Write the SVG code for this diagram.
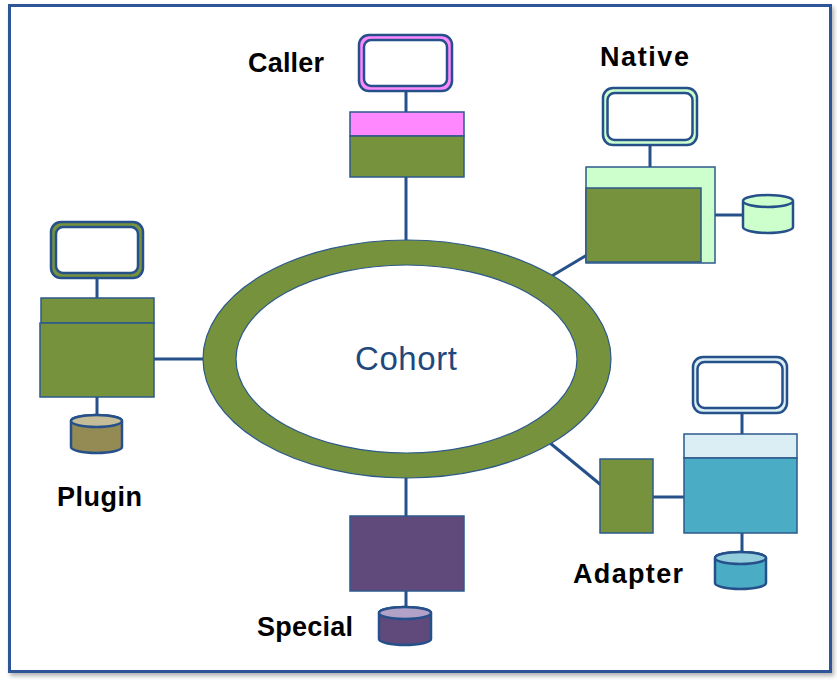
<svg xmlns="http://www.w3.org/2000/svg" width="837" height="683" viewBox="0 0 837 683">
<defs>
<filter id="sh" x="-5%" y="-5%" width="110%" height="110%"><feDropShadow dx="2" dy="3" stdDeviation="2" flood-color="#000" flood-opacity="0.3"/></filter>
<style>
.ln{stroke:#26508A;stroke-width:3;fill:none}
.bx{stroke:#2D5A8C;stroke-width:1.5}
.mo{stroke:#26508A;stroke-width:2.5}
.in{fill:#fff;stroke:#26508A;stroke-width:2.5}
.cy{stroke:#26508A;stroke-width:2.5}
.lbl{font-family:"Liberation Sans",Arial,sans-serif;font-weight:bold;font-size:27px;fill:#000}
.g{fill:#76923C}
</style>
</defs>
<rect x="9.5" y="5.5" width="821" height="666" fill="#fff" stroke="#2F5597" stroke-width="3" filter="url(#sh)"/>
<g id="connectors">
<line class="ln" x1="406" y1="91" x2="406" y2="112"/>
<line class="ln" x1="406" y1="177" x2="406" y2="241"/>
<line class="ln" x1="650" y1="145" x2="650" y2="168"/>
<line class="ln" x1="550" y1="277" x2="587" y2="255"/>
<line class="ln" x1="715" y1="215" x2="743" y2="215"/>
<line class="ln" x1="97" y1="278" x2="97" y2="298"/>
<line class="ln" x1="154" y1="359" x2="204" y2="359"/>
<line class="ln" x1="97" y1="397" x2="97" y2="416"/>
<line class="ln" x1="742" y1="413" x2="742" y2="435"/>
<line class="ln" x1="550" y1="443" x2="601" y2="485"/>
<line class="ln" x1="653" y1="497" x2="684" y2="497"/>
<line class="ln" x1="742" y1="533" x2="742" y2="553"/>
<line class="ln" x1="406" y1="477" x2="406" y2="516"/>
<line class="ln" x1="406" y1="591" x2="406" y2="608"/>
</g>
<g id="cohort">
<path d="M203,359 a204,119 0 1,0 408,0 a204,119 0 1,0 -408,0 Z M236,359 a170.5,94 0 1,0 341,0 a170.5,94 0 1,0 -341,0 Z" fill="#76923C" fill-rule="evenodd" stroke="#2D5A8C" stroke-width="1.2"/>
<text x="406" y="370" text-anchor="middle" font-family="Liberation Sans,Arial,sans-serif" font-size="33" fill="#1F497D" textLength="102">Cohort</text>
</g>
<g id="caller">
<rect class="mo" x="359" y="35" width="93" height="56" rx="10" fill="#FF88FF"/>
<rect class="in" x="364" y="40" width="83" height="46" rx="7"/>
<rect class="bx" x="350" y="112" width="114" height="24" fill="#FF88FF"/>
<rect class="bx g" x="350" y="136" width="114" height="41"/>
<text class="lbl" x="248" y="72" textLength="76">Caller</text>
</g>
<g id="native">
<rect class="mo" x="603" y="88" width="94" height="57" rx="10" fill="#CCFFCC"/>
<rect class="in" x="607.5" y="93" width="85" height="47" rx="7"/>
<rect class="bx" x="586" y="167" width="129" height="96" fill="#CCFFCC"/>
<rect class="bx g" x="586" y="188" width="115" height="74"/>
<path class="cy" d="M743,201 v26 a25,6 0 0,0 50,0 v-26 a25,6 0 0,0 -50,0 a25,6 0 0,0 50,0" fill="#CCFFCC"/>
<text class="lbl" x="600" y="66" textLength="89">Native</text>
</g>
<g id="plugin">
<rect class="mo" x="51" y="222" width="92" height="56" rx="10" fill="#76923C"/>
<rect class="in" x="56" y="227" width="82" height="46" rx="7"/>
<rect class="bx g" x="41" y="298" width="113" height="25"/>
<rect class="bx g" x="40" y="323" width="114" height="74"/>
<path class="cy" d="M71,421 v26 a25.5,6 0 0,0 51,0 v-26 a25.5,6 0 0,0 -51,0" fill="#948A54"/>
<ellipse class="cy" cx="96.5" cy="421" rx="25.5" ry="6" fill="#C4BD97"/>
<text class="lbl" x="57" y="506" textLength="85">Plugin</text>
</g>
<g id="adapter">
<rect class="mo" x="693" y="357" width="94" height="56" rx="10" fill="#DAEEF3"/>
<rect class="in" x="697.5" y="362" width="85" height="46" rx="7"/>
<rect class="bx" x="684" y="434" width="113" height="24" fill="#DAEEF3"/>
<rect class="bx" x="684" y="458" width="113" height="75" fill="#4BACC6"/>
<rect class="bx g" x="600" y="459" width="53" height="74"/>
<path class="cy" d="M715,558 v25 a25.5,6 0 0,0 51,0 v-25 a25.5,6 0 0,0 -51,0" fill="#4BACC6"/>
<ellipse class="cy" cx="740.5" cy="558" rx="25.5" ry="6" fill="#92CDDC"/>
<text class="lbl" x="573" y="583" textLength="110">Adapter</text>
</g>
<g id="special">
<rect class="bx" x="350" y="516" width="114" height="75" fill="#604A7B"/>
<path class="cy" d="M379,613 v26 a26,6 0 0,0 52,0 v-26 a26,6 0 0,0 -52,0" fill="#604A7B"/>
<ellipse class="cy" cx="405" cy="613" rx="26" ry="6" fill="#B3A2C7"/>
<text class="lbl" x="257" y="636" textLength="96">Special</text>
</g>
</svg>
